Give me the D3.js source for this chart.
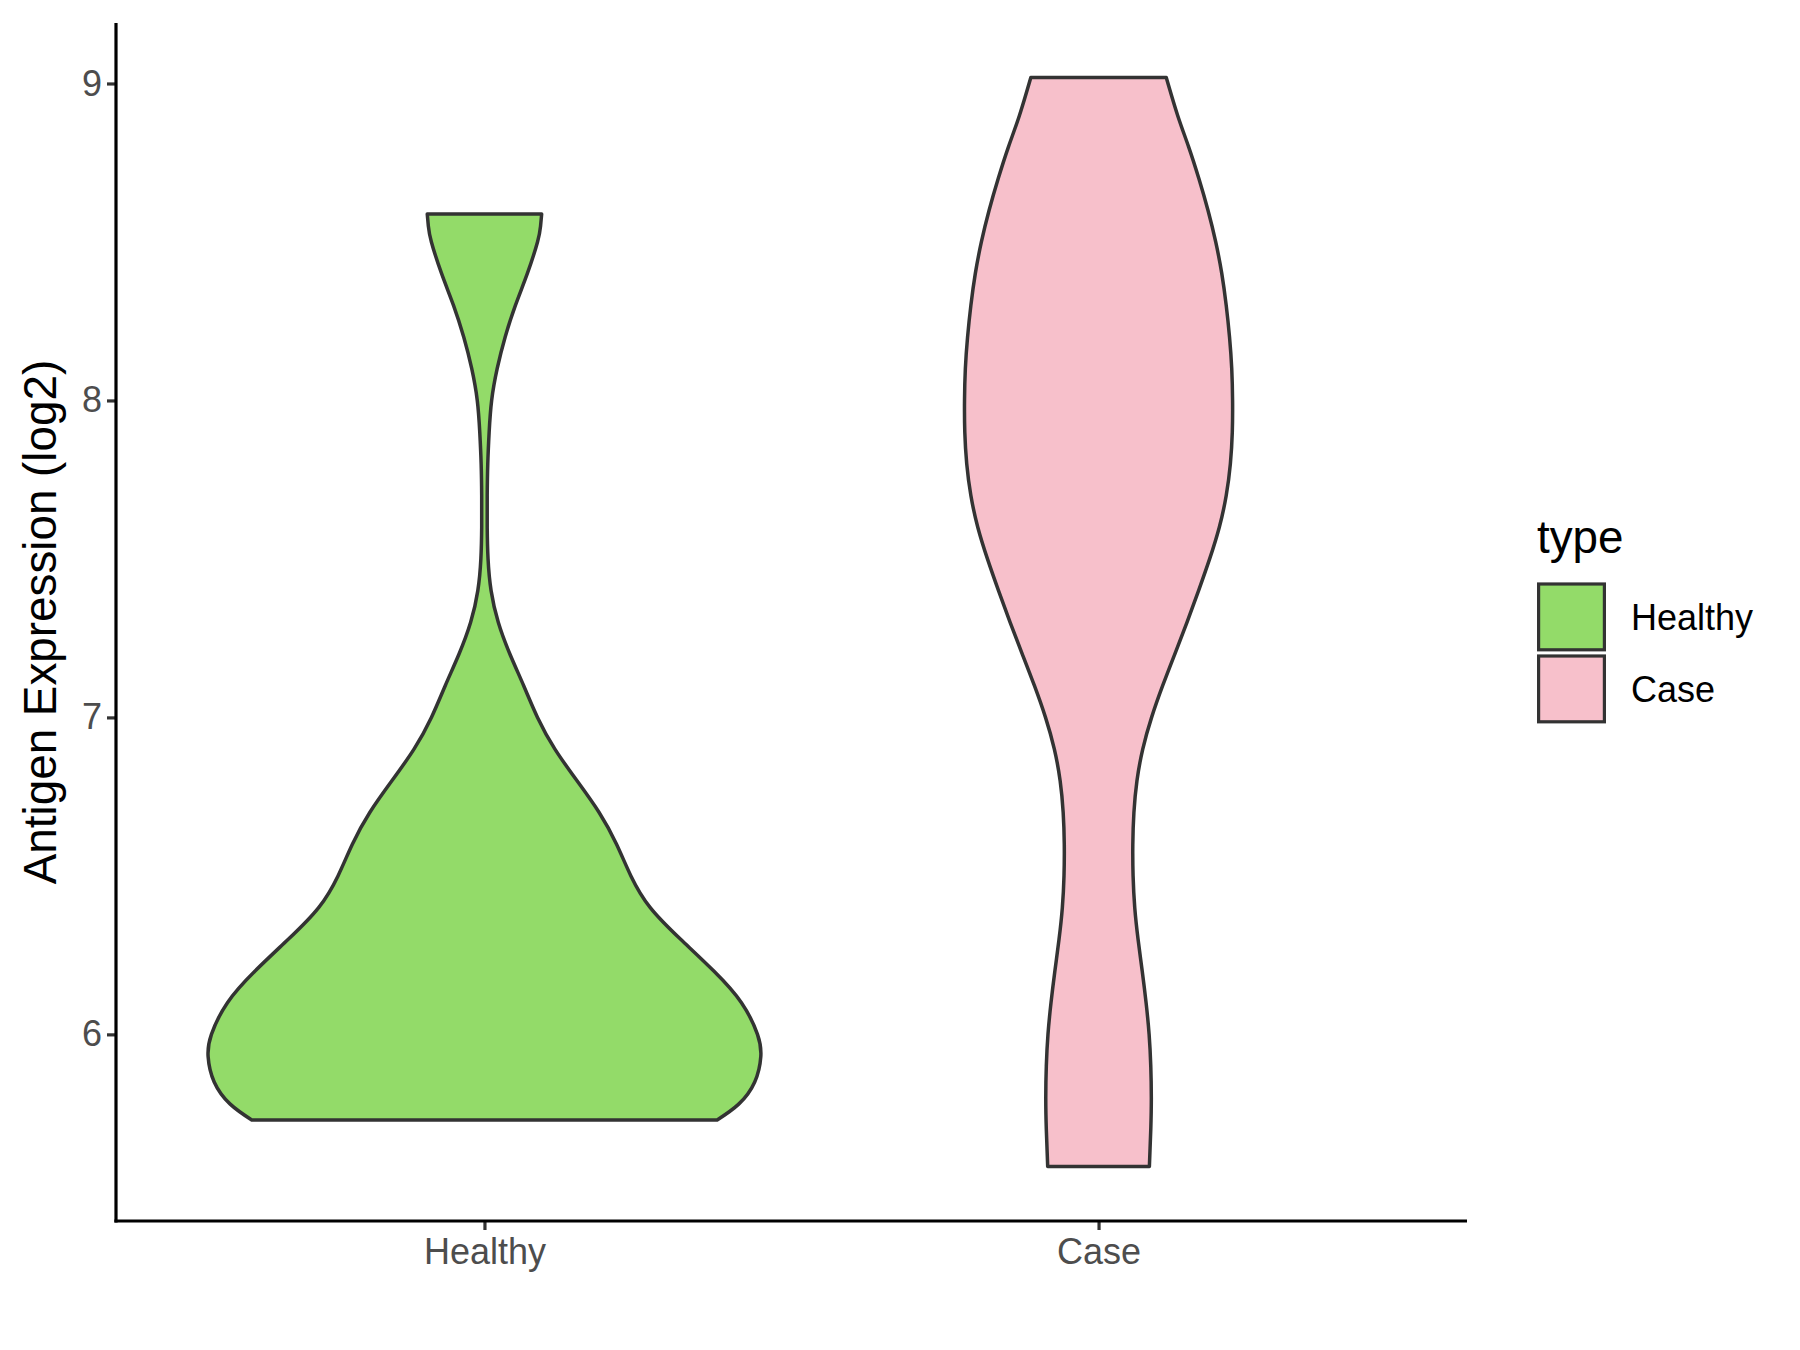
<!DOCTYPE html>
<html>
<head>
<meta charset="utf-8">
<script src="https://cdn.jsdelivr.net/npm/d3@7"></script>
<style>
  html, body { margin: 0; padding: 0; background: #ffffff; }
  svg { display: block; }
</style>
</head>
<body>
<div id="chart"></div>
<script>
// ---------- data ----------
const categories = ["Healthy", "Case"];
const fillColors = ["#93DB69", "#F7C0CB"];
const yTicks = [6, 7, 8, 9];
const yTitle = "Antigen Expression (log2)";
const legendTitle = "type";

// Healthy violin outline: expression values and relative half-widths
const healthyValues  = [8.588, 8.55, 8.5, 8.4, 8.3, 8.2, 8.1, 8.0, 7.9, 7.8, 7.7, 7.6, 7.5, 7.4, 7.3, 7.2, 7.1, 7.0, 6.9, 6.8, 6.7, 6.6, 6.5, 6.4, 6.3, 6.2, 6.1, 6.0, 5.93, 5.85, 5.78, 5.73];
const healthyDensity = [0.207, 0.203, 0.192, 0.155, 0.112, 0.075, 0.046, 0.026, 0.017, 0.012, 0.010, 0.010, 0.013, 0.024, 0.050, 0.092, 0.142, 0.192, 0.255, 0.335, 0.415, 0.478, 0.530, 0.600, 0.710, 0.830, 0.930, 0.988, 1.0, 0.978, 0.920, 0.842];

// Case violin outline
const caseValues  = [9.019, 8.9, 8.8, 8.7, 8.6, 8.5, 8.4, 8.3, 8.2, 8.1, 8.0, 7.9, 7.8, 7.7, 7.6, 7.5, 7.4, 7.3, 7.2, 7.1, 7.0, 6.9, 6.8, 6.7, 6.6, 6.5, 6.4, 6.3, 6.2, 6.1, 6.0, 5.9, 5.8, 5.7, 5.583];
const caseDensity = [0.245, 0.286, 0.326, 0.363, 0.396, 0.424, 0.446, 0.462, 0.474, 0.482, 0.485, 0.484, 0.477, 0.462, 0.437, 0.402, 0.362, 0.320, 0.276, 0.232, 0.192, 0.160, 0.139, 0.128, 0.124, 0.125, 0.131, 0.143, 0.158, 0.172, 0.183, 0.189, 0.191, 0.189, 0.184];

const violins = [
  { cat: "Healthy", values: healthyValues, density: healthyDensity },
  { cat: "Case", values: caseValues, density: caseDensity }
];

// ---------- layout ----------
const W = 1800, H = 1350;
const plot = { left: 116, right: 1467, top: 23, bottom: 1221 };

const svg = d3.select("#chart").append("svg")
  .attr("width", W).attr("height", H)
  .style("font-family", "'Liberation Sans', Arial, sans-serif");

// y scale with ggplot-like 5% expansion
const allVals = healthyValues.concat(caseValues);
const vmin = d3.min(allVals), vmax = d3.max(allVals);
const pad = (vmax - vmin) * 0.05;
const y = d3.scaleLinear().domain([vmin - pad, vmax + pad]).range([plot.bottom, plot.top]);

// discrete x with 0.6 expansion on each side
const x = d3.scalePoint().domain(categories).range([plot.left, plot.right]).padding(0.6);
const step = x.step();
const halfW = d3.scaleLinear().domain([0, 1]).range([0, step * 0.45]);
const color = d3.scaleOrdinal().domain(categories).range(fillColors);

// ---------- violins ----------
violins.forEach(v => {
  const cx = x(v.cat);
  const pts = v.values.map((val, i) => ({ val, d: v.density[i] }));
  const area = d3.area()
    .y(d => y(d.val))
    .x0(d => cx - halfW(d.d))
    .x1(d => cx + halfW(d.d))
    .curve(d3.curveNatural);
  svg.append("path")
    .datum(pts)
    .attr("d", area)
    .attr("fill", color(v.cat))
    .attr("stroke", "#333333")
    .attr("stroke-width", 3.5)
    .attr("stroke-linejoin", "round");
});

// ---------- axes ----------
const yAxis = d3.axisLeft(y).tickValues(yTicks).tickSize(9).tickPadding(5).tickFormat(d3.format("d"));
const gy = svg.append("g").attr("transform", `translate(${plot.left},0)`).call(yAxis);
gy.select(".domain").remove();
gy.selectAll(".tick line").attr("stroke", "#333333").attr("stroke-width", 3.2);
gy.selectAll(".tick text").attr("fill", "#4D4D4D").style("font-size", "36px")
  .style("font-family", "'Liberation Sans', Arial, sans-serif");

const xAxis = d3.axisBottom(x).tickSize(9).tickPadding(8);
const gx = svg.append("g").attr("transform", `translate(0,${plot.bottom})`).call(xAxis);
gx.select(".domain").remove();
gx.selectAll(".tick line").attr("stroke", "#333333").attr("stroke-width", 3.2);
gx.selectAll(".tick text").attr("fill", "#4D4D4D").style("font-size", "36px")
  .style("font-family", "'Liberation Sans', Arial, sans-serif");

// axis lines (black, ggplot classic)
svg.append("line")
  .attr("x1", plot.left).attr("x2", plot.left)
  .attr("y1", plot.top).attr("y2", plot.bottom + 1.6)
  .attr("stroke", "#000").attr("stroke-width", 3.2);
svg.append("line")
  .attr("x1", plot.left - 1.6).attr("x2", plot.right)
  .attr("y1", plot.bottom).attr("y2", plot.bottom)
  .attr("stroke", "#000").attr("stroke-width", 3.2);

// y title
svg.append("text")
  .attr("transform", `translate(40,${(plot.top + plot.bottom) / 2}) rotate(-90)`)
  .attr("text-anchor", "middle")
  .attr("dominant-baseline", "central")
  .style("font-size", "45.8px")
  .attr("fill", "#000")
  .text(yTitle);

// ---------- legend ----------
const lg = svg.append("g").attr("transform", "translate(1537,0)");
lg.append("text")
  .attr("x", 0).attr("y", 553)
  .style("font-size", "45.8px")
  .attr("fill", "#000")
  .text(legendTitle);
const keySize = 69;
categories.forEach((c, i) => {
  const top = 584 + i * 72;
  lg.append("rect")
    .attr("x", 1.6).attr("y", top)
    .attr("width", keySize - 3.2).attr("height", keySize - 3.2)
    .attr("fill", color(c))
    .attr("stroke", "#333333").attr("stroke-width", 3.2);
  lg.append("text")
    .attr("x", 94).attr("y", top + keySize / 2 - 1)
    .attr("dominant-baseline", "central")
    .style("font-size", "36px")
    .attr("fill", "#000")
    .text(c);
});
</script>
</body>
</html>
